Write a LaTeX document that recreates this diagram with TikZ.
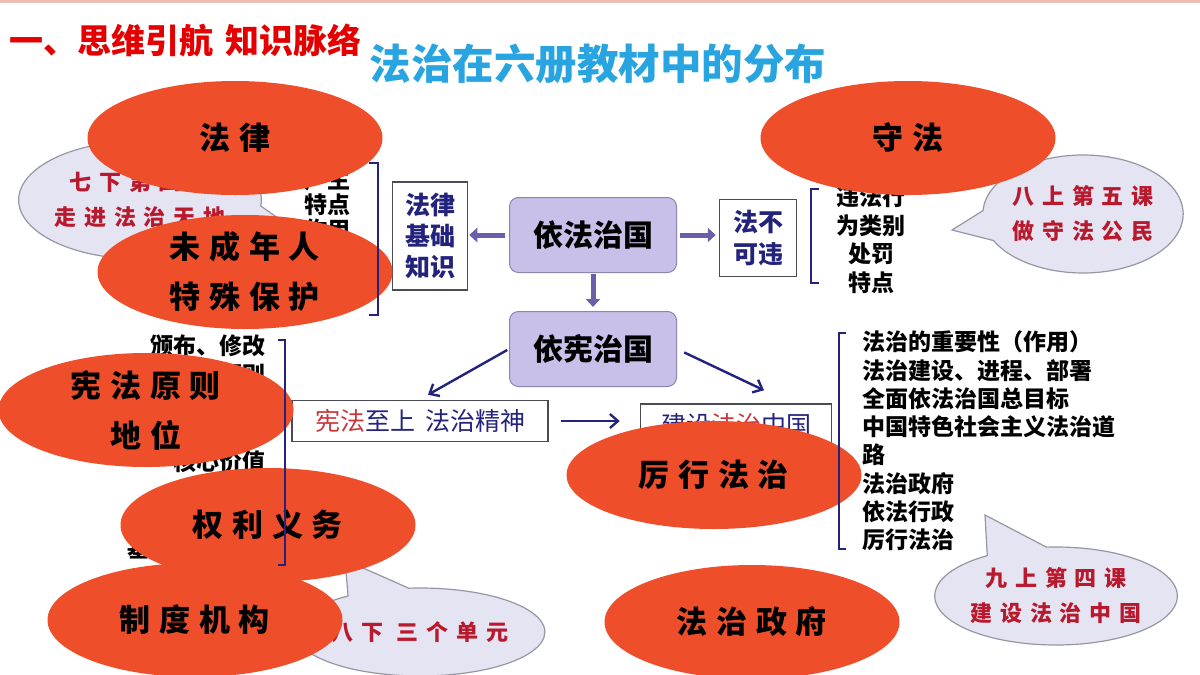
\documentclass[tikz,border=0pt]{standalone}
\usepackage{fontspec}
\setmainfont{Noto Sans CJK SC}
\newfontfamily\brushfont[LetterSpace=28]{Noto Sans CJK SC}
\newfontfamily\bubblefont[LetterSpace=36]{Noto Sans CJK SC}
\usetikzlibrary{shapes.geometric,shapes.callouts,arrows.meta}

\definecolor{ovalred}{RGB}{238,78,42}
\definecolor{bubblefill}{RGB}{229,228,243}
\definecolor{bubbleline}{RGB}{150,150,165}
\definecolor{bubbletext}{RGB}{185,25,45}
\definecolor{lavender}{RGB}{200,192,232}
\definecolor{lavline}{RGB}{140,132,175}
\definecolor{navy}{RGB}{35,35,125}
\definecolor{arrowpurple}{RGB}{105,95,170}
\definecolor{titlered}{RGB}{228,0,0}
\definecolor{titleblue}{RGB}{40,165,225}
\definecolor{boxline}{RGB}{75,75,85}
\definecolor{lawred}{RGB}{200,55,60}
\definecolor{topline}{RGB}{236,190,180}

\tikzset{
  oval/.style={ellipse, fill=ovalred, minimum width=295pt, minimum height=114pt,
    inner sep=0pt, align=center, font=\brushfont\bfseries\fontsize{31}{50}\selectfont},
  bubble/.style={ellipse callout, callout pointer arc=30, fill=bubblefill, draw=bubbleline,
    line width=1.2pt, text=bubbletext, inner sep=0pt, align=center,
    font=\bubblefont\bfseries\fontsize{22}{35}\selectfont},
  listtext/.style={inner sep=0pt, font=\bfseries\fontsize{23}{25}\selectfont},
  whitebox/.style={draw=boxline, line width=1.5pt, fill=white, inner sep=0pt, text=navy},
  purplebox/.style={draw=lavline, fill=lavender, line width=1pt, rounded corners=9pt,
    minimum width=167pt, minimum height=75pt, font=\bfseries\fontsize{30}{36}\selectfont},
  fatarrow/.style={arrowpurple, line width=5pt, -{Triangle[length=8pt,width=14pt]}},
  navyarrow/.style={navy, line width=2.4pt, -{Straight Barb[length=8pt,width=14pt]}},
  bracket/.style={draw=navy, line width=1.8pt}
}

\begin{document}
\begin{tikzpicture}[x=1pt,y=-1pt]

\fill[white] (0,0) rectangle (1200,675);
\useasboundingbox (0,0) rectangle (1200,675);

%TITLES
\draw[topline, line width=3pt] (0,1) -- (1200,1);
\node[anchor=west, text=titlered, inner sep=0pt, font=\bfseries\fontsize{34}{40}\selectfont] (head) at (9,41) {一、思维引航\hspace{12pt}知识脉络};
\node[text=titleblue, inner sep=0pt, font=\bfseries\fontsize{41.5}{48}\selectfont] (topic) at (598,64) {法治在六册教材中的分布};

%CALLOUTS
\node[bubble, minimum width=235pt, minimum height=118pt, callout absolute pointer={(292,228)}] (qixia) at (140,200) {七下第四课\\走进法治天地};
\node[bubble, minimum width=187pt, minimum height=118pt, callout absolute pointer={(952,230)}] (bashang) at (1083,214) {八上第五课\\做守法公民};
\node[bubble, minimum width=222pt, minimum height=88pt, callout absolute pointer={(345,560)}] (baxia) at (420,632) {八下~三个单元};
\node[bubble, minimum width=242pt, minimum height=98pt, callout absolute pointer={(985,515)}] (jiushang) at (1056,596) {九上第四课\\建设法治中国};

%LISTS
\node[listtext, anchor=east, align=right] (flist) at (351,205) {产生\\特点\\作用};
\node[listtext, align=center, font=\bfseries\fontsize{23}{28.5}\selectfont] (wlist) at (871,240) {违法行\\为类别\\处罚\\特点};
\node[listtext, anchor=east, align=right, font=\bfseries\fontsize{23}{29}\selectfont] (xlist) at (266,447) {颁布、修改\\宪法原则\\[58pt]核心价值\\[58pt]基本权利义务};
\node[listtext, anchor=west, align=left, font=\bfseries\fontsize{23}{28.3}\selectfont] (rlist) at (862,441) {法治的重要性（作用）\\法治建设、进程、部署\\全面依法治国总目标\\中国特色社会主义法治道\\路\\法治政府\\依法行政\\厉行法治};

%BOXES
\node[whitebox, minimum width=75pt, minimum height=108pt, align=center, font=\bfseries\fontsize{25}{31}\selectfont] (jichu) at (430,236) {法律\\基础\\知识};
\node[purplebox] (yifa) at (593,235) {依法治国};
\node[whitebox, minimum width=77pt, minimum height=77pt, align=center, font=\bfseries\fontsize{25}{32}\selectfont] (bukewei) at (758,238) {法不\\可违};
\node[purplebox] (yixian) at (593,349) {依宪治国};
\node[whitebox, minimum width=256pt, minimum height=41pt, font=\fontsize{25}{28}\selectfont] (zhishang) at (420,421) {\textcolor{lawred}{宪法}至上\hspace{10pt}法治精神};
\node[whitebox, minimum width=191pt, minimum height=42pt, font=\fontsize{25}{30}\selectfont] (fazhi) at (736,425) {建设\textcolor{lawred}{法治}中国};

\draw[fatarrow, shorten <=4pt, shorten >=1pt] (yifa.west) -- (yifa.west -| jichu.east);
\draw[fatarrow, shorten <=3pt, shorten >=3pt] (yifa.east) -- (yifa.east -| bukewei.west);
\draw[fatarrow, shorten <=1pt, shorten >=4pt] (yifa.south) -- (yixian.north);
\draw[navyarrow, shorten <=2pt] (yixian.west) -- ([xshift=8pt,yshift=5pt]zhishang.north);
\draw[navyarrow, shorten <=8pt] (yixian.east) -- ([xshift=28pt,yshift=13pt]fazhi.north);
\draw[navyarrow, shorten <=12pt, shorten >=20pt] (zhishang.east) -- (zhishang.east -| fazhi.west);

%OVALS
\node[oval] (falv) at (235,138) {法律};
\node[oval] (weicheng) at (245,272) {未成年人\\特殊保护};
\node[oval] (shoufa) at (908,138) {守法};
\node[oval] (yuanze) at (146,410) {宪法原则\\地位};
\node[oval] (quanli) at (268,525) {权利义务};
\node[oval] (zhidu) at (195,620) {制度机构};
\node[oval, minimum height=108pt] (lixing) at (714,475) {厉行法治};
\node[oval] (zhengfu) at (752,622) {法治政府};

%BRACKETS
\draw[bracket] (369,163) -- (378,163) -- (378,315) -- (369,315);
\draw[bracket] (819,189) -- (811,189) -- (811,283) -- (819,283);
\draw[bracket] (278,340) -- (285,340) -- (285,565) -- (278,565);
\draw[bracket] (846,333) -- (839,333) -- (839,549) -- (846,549);

\end{tikzpicture}
\end{document}
